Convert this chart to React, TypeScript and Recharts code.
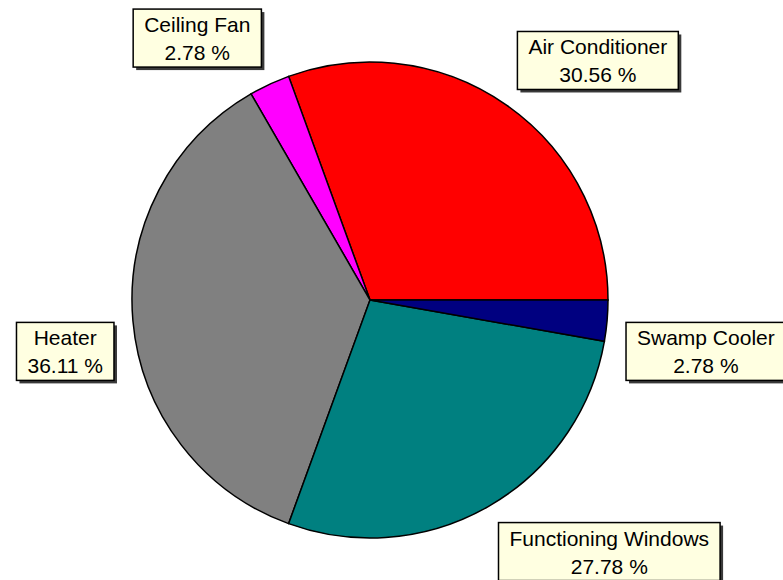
import { PieChart, Pie, Cell } from 'recharts'

const categories = ['Air Conditioner', 'Ceiling Fan', 'Heater', 'Functioning Windows', 'Swamp Cooler']
const counts     = [11, 1, 13, 10, 1]
const colors     = ['#FF0000', '#FF00FF', '#808080', '#008080', '#000080']

const data = categories.map((name, i) => ({ name, value: counts[i] }))

const FONT = '21px "Liberation Sans", Arial, sans-serif'
const RAD = Math.PI / 180

let ctx: CanvasRenderingContext2D | null = null
function textWidth(s: string) {
  if (!ctx) ctx = document.createElement('canvas').getContext('2d')
  if (!ctx) return s.length * 10
  ctx.font = FONT
  return ctx.measureText(s).width
}

function BoxLabel(props: any) {
  const { cx, cy, midAngle, outerRadius, name, percent } = props
  const pct = `${(percent * 100).toFixed(2)} %`
  const r = outerRadius + 19
  const cos = Math.cos(-midAngle * RAD)
  const sin = Math.sin(-midAngle * RAD)
  const ax = cx + r * cos
  const ay = cy + r * sin
  const w = Math.max(textWidth(name), textWidth(pct)) + 22
  const h = 58
  const x = cos >= 0 ? ax : ax - w
  const y = sin <= 0 ? ay - h : ay
  return (
    <g>
      <rect x={x + 3} y={y + 3} width={w} height={h} fill="#3a3a3a" />
      <rect x={x} y={y} width={w} height={h} fill="#FFFFE1" stroke="#000" strokeWidth={1.5} />
      <text x={x + w / 2} y={y + 23} textAnchor="middle" fill="#000"
        style={{ font: FONT }}>{name}</text>
      <text x={x + w / 2} y={y + 51} textAnchor="middle" fill="#000"
        style={{ font: FONT }}>{pct}</text>
    </g>
  )
}

export default function App() {
  return (
    <div style={{ position: 'absolute', left: 0, top: 0, background: '#fff' }}>
      <PieChart width={783} height={580} margin={{ top: 0, right: 0, bottom: 0, left: 0 }}>
        <Pie
          data={data}
          dataKey="value"
          nameKey="name"
          cx={370}
          cy={300}
          outerRadius={238}
          startAngle={0}
          endAngle={360}
          stroke="#000"
          strokeWidth={1.5}
          label={BoxLabel}
          labelLine={false}
          isAnimationActive={false}
        >
          {data.map((d, i) => <Cell key={d.name} fill={colors[i]} />)}
        </Pie>
      </PieChart>
    </div>
  )
}
